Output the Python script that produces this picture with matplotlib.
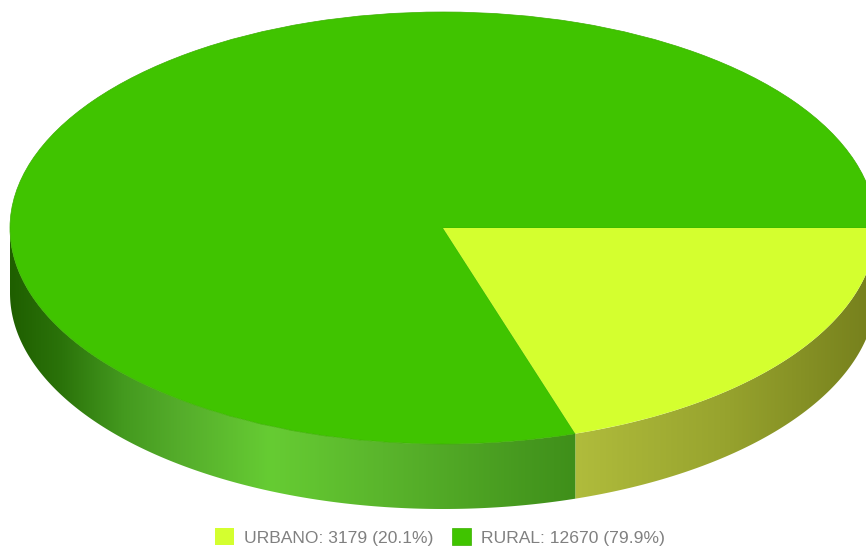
import numpy as np
import matplotlib
matplotlib.use("Agg")
import matplotlib.pyplot as plt
from matplotlib.colors import LinearSegmentedColormap
from matplotlib.patches import Polygon

labels = ["URBANO", "RURAL"]
values = [3179, 12670]
percents = [20.1, 79.9]
top_colors = ["#D4FF2F", "#40C400"]

# side wall shading, left to right along the rim
rural_stops = [(0, "#1F5F00"), (0.09, "#2B730A"), (0.20, "#449A1F"), (0.30, "#55AD2B"),
               (0.46, "#66CC33"), (0.66, "#5AB52C"), (1, "#3F8F1A")]
urbano_stops = [(0, "#B0BC3C"), (0.5, "#97A32E"), (1, "#757F1C")]

W, H = 866, 546
CX, CY, RX, RY, DEPTH = 443, 228, 433, 216, 65

plt.rcParams["font.family"] = ["Liberation Sans", "DejaVu Sans"]

fig = plt.figure(figsize=(W / 100, H / 100), dpi=100)
ax = fig.add_axes([0, 0, 1, 1])

xlim = (-CX / RX, (W - CX) / RX)
ylim = ((CY - H) / RY, CY / RY)
d = DEPTH / RY


def wall(a0, a1, stops, z):
    # a0, a1 in degrees clockwise from east, on the lower half of the rim
    t = np.radians(np.linspace(a0, a1, 200))
    x = np.cos(t)
    y = -np.sin(t)
    pts = np.r_[np.c_[x, y], np.c_[x[::-1], y[::-1] - d]]
    poly = Polygon(pts, closed=True, fc="none", ec="none", transform=ax.transData)
    ax.add_patch(poly)
    cmap = LinearSegmentedColormap.from_list("wall", stops)
    grad = np.linspace(0, 1, 256).reshape(1, -1)
    im = ax.imshow(grad, cmap=cmap, aspect="auto", zorder=z,
                   extent=(x.min(), x.max(), -1 - d, 0.1))
    im.set_clip_path(poly)


split = values[0] / sum(values) * 360
wall(0, split, urbano_stops, 1)
wall(split, 180, rural_stops, 1)

wedges, _ = ax.pie(values, colors=top_colors, startangle=0, counterclock=False,
                   wedgeprops=dict(linewidth=0))
for w in wedges:
    w.set_zorder(2)
wedges[1].set_edgecolor("#3BB000")
wedges[1].set_linewidth(0.5)
wedges[0].set_zorder(3)

ax.set_aspect("auto")
ax.set_xlim(*xlim)
ax.set_ylim(*ylim)
ax.axis("off")

legend_text = [f"{l}: {v} ({p}%)" for l, v, p in zip(labels, values, percents)]
fig.legend(wedges, legend_text, ncol=2, loc="center", bbox_to_anchor=(440 / W, 1 - 537 / H),
           frameon=False, fontsize=12.6, labelcolor="#808080", handlelength=1.08,
           handleheight=1.1, handletextpad=0.58, columnspacing=1.02, borderpad=0)

fig.savefig("out.png", dpi=100)
